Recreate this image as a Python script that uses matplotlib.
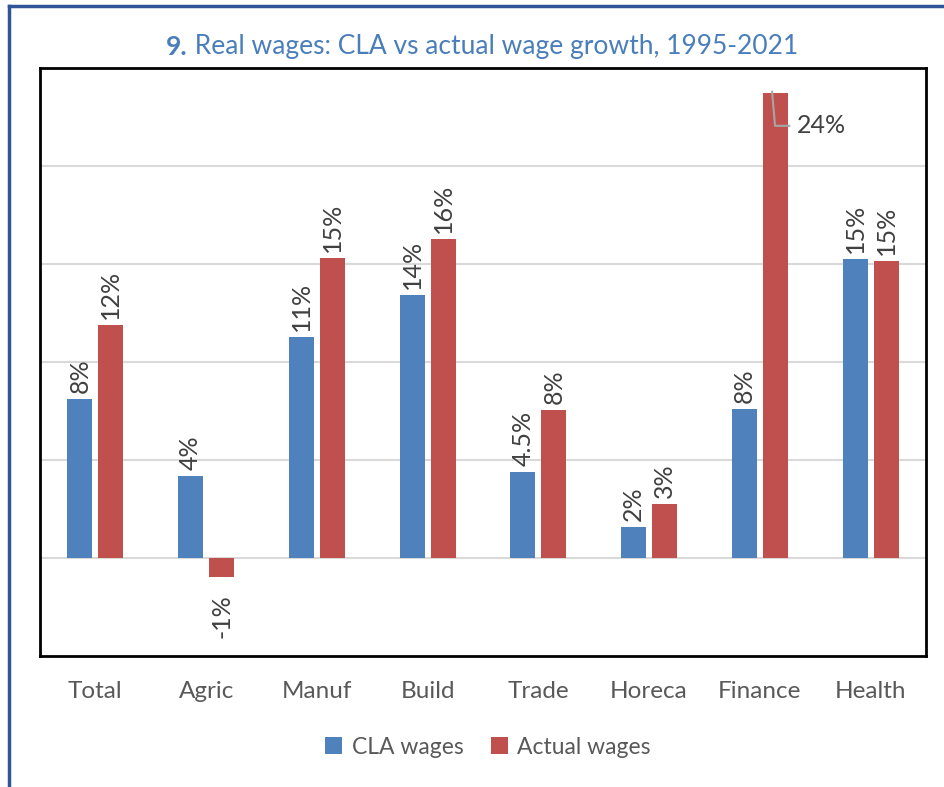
import matplotlib.pyplot as plt
from matplotlib.lines import Line2D
import numpy as np

# data (% change, 1995-2021)
sectors = ["Total", "Agric", "Manuf", "Build", "Trade", "Horeca", "Finance", "Health"]
cla_wages = [8.1, 4.2, 11.3, 13.4, 4.4, 1.6, 7.6, 15.25]
actual_wages = [11.9, -0.97, 15.3, 16.3, 7.55, 2.75, 23.7, 15.15]
cla_labels = ["8%", "4%", "11%", "14%", "4.5%", "2%", "8%", "15%"]
actual_labels = ["12%", "-1%", "15%", "16%", "8%", "3%", "24%", "15%"]

blue = "#4F81BD"
red = "#C0504D"
txt = "#404040"

plt.rcParams['font.family'] = ['Lato', 'DejaVu Sans']

fig = plt.figure(figsize=(9.45, 7.87), dpi=100)
ax = fig.add_axes([40/945, 1-656/787, (926-40)/945, (656-68)/787])

x = np.arange(len(sectors))
w = 0.226
off = 0.14
ax.bar(x - off, cla_wages, w, color=blue, label="CLA wages", zorder=3)
ax.bar(x + off, actual_wages, w, color=red, label="Actual wages", zorder=3)

ax.set_xlim(-0.5, len(sectors) - 0.5)
ax.set_ylim(-5, 25)
ax.set_yticks(np.arange(0, 25, 5))
ax.set_yticklabels([])
ax.tick_params(axis='y', length=0)
ax.tick_params(axis='x', length=0, pad=18, labelsize=17.5, labelcolor="#595959")
ax.set_xticks(x)
ax.set_xticklabels(sectors)
ax.grid(axis='y', color="#D9D9D9", linewidth=1.5, zorder=0)
for s in ax.spines.values():
    s.set_color("black")
    s.set_linewidth(2)

lab_fs = 18
# data labels, rotated
for i in range(len(sectors)):
    ax.text(x[i] - off, cla_wages[i] + 0.3, cla_labels[i], rotation=90,
            ha='center', va='bottom', fontsize=lab_fs, color=txt, zorder=4)
    v = actual_wages[i]
    if actual_labels[i] == "24%":
        # label pushed outside the plot top, with a leader line
        ax.annotate(actual_labels[i], xy=(x[i] + off - 0.03, v + 0.1),
                    xytext=(x[i] + off + 0.19, v - 1.65),
                    ha='left', va='center', fontsize=lab_fs, color=txt,
                    arrowprops=dict(arrowstyle='-', color="#A6A6A6", lw=1.5,
                                    connectionstyle="angle,angleA=0,angleB=95,rad=0",
                                    shrinkA=3, shrinkB=0), zorder=4)
    elif v < 0:
        ax.text(x[i] + off, v - 0.9, actual_labels[i], rotation=90,
                ha='center', va='top', fontsize=lab_fs, color=txt, zorder=4)
    else:
        ax.text(x[i] + off, v + 0.3, actual_labels[i], rotation=90,
                ha='center', va='bottom', fontsize=lab_fs, color=txt, zorder=4)

# title: bold number then plain text
t1 = fig.text(166/945, 1-55/787, "9.", fontsize=19, fontweight='bold',
              color="#4A7EBB", ha='left', va='baseline')
ax.annotate(" Real wages: CLA vs actual wage growth, 1995-2021", xy=(1, 0),
            xycoords=t1, ha='left', va='bottom', fontsize=19, color="#4A7EBB",
            annotation_clip=False)

fig.legend(loc='center', bbox_to_anchor=(488/945, 1-747/787), ncol=2, frameon=False,
           fontsize=16.5, handlelength=0.75, handleheight=0.75, handletextpad=0.4,
           columnspacing=1.2, labelcolor="#595959")

# outer chart border (left and top edges visible)
fig.add_artist(Line2D([9/945, 9/945], [0, 1-6/787], color="#2F5597", lw=2.5,
                      transform=fig.transFigure))
fig.add_artist(Line2D([9/945, 1], [1-6/787, 1-6/787], color="#2F5597", lw=2.5,
                      transform=fig.transFigure))

fig.savefig("out.png", dpi=100)
